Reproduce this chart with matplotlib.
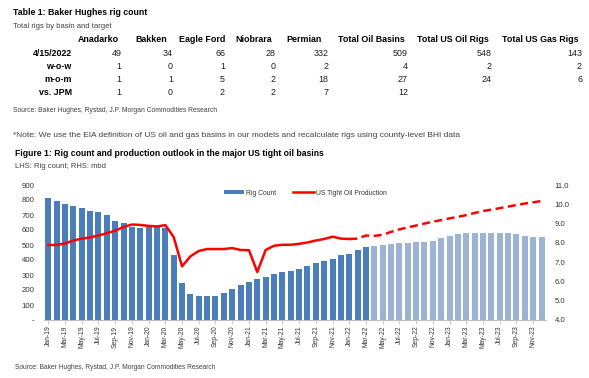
import matplotlib
matplotlib.use("Agg")
import matplotlib.pyplot as plt
from matplotlib.patches import Patch
from matplotlib.lines import Line2D

plt.rcParams['font.family'] = ['Liberation Sans Narrow', 'Liberation Sans', 'DejaVu Sans']

# ---------------- data ----------------
table_cols = ["Anadarko", "Bakken", "Eagle Ford", "Niobrara", "Permian",
              "Total Oil Basins", "Total US Oil Rigs", "Total US Gas Rigs"]
row_labels = ["4/15/2022", "w-o-w", "m-o-m", "vs. JPM"]
row_date = ["49", "34", "66", "28", "332", "509", "548", "143"]
row_wow = ["1", "0", "1", "0", "2", "4", "2", "2"]
row_mom = ["1", "1", "5", "2", "18", "27", "24", "6"]
row_jpm = ["1", "0", "2", "2", "7", "12", "", ""]

months = ["Jan", "Feb", "Mar", "Apr", "May", "Jun", "Jul", "Aug", "Sep", "Oct", "Nov", "Dec"]
years = ["19", "20", "21", "22", "23"]
month_labels = [f"{m}-{y}" for y in years for m in months]

rig_count = [812, 795, 771, 762, 744, 728, 719, 700, 662, 648, 623, 614,
             618, 618, 612, 432, 247, 176, 160, 158, 158, 180, 210, 231,
             253, 275, 287, 307, 318, 329, 341, 360, 378, 393, 409, 431,
             442, 466, 487, 496, 502, 507, 511, 516, 520, 522, 527, 544,
             562, 571, 582, 582, 582, 582, 582, 577, 571, 560, 555, 551]
n_actual_bars = 39  # Jan-19 .. Mar-22 are actuals

production = [7.89, 7.89, 7.97, 8.12, 8.22, 8.28, 8.38, 8.50, 8.63, 8.82, 8.95, 8.93,
              8.88, 8.85, 8.92, 8.30, 6.78, 7.30, 7.58, 7.68, 7.68, 7.68, 7.73, 7.63,
              7.62, 6.49, 7.63, 7.85, 7.90, 7.90, 7.95, 8.02, 8.12, 8.20, 8.32, 8.22,
              8.20, 8.22, 8.38, 8.36, 8.42, 8.57, 8.70, 8.80, 8.90, 9.00, 9.10, 9.18,
              9.27, 9.35, 9.44, 9.55, 9.65, 9.72, 9.80, 9.88, 9.96, 10.04, 10.10, 10.17]
last_actual_prod = 36  # Jan-22

# ---------------- figure ----------------
W, H = 589, 378
fig = plt.figure(figsize=(W / 100, H / 100), dpi=100)

def ftext(x, y, s, **kw):
    fig.text(x / W, 1 - y / H, s, va='center', **kw)

txt_col = '#1a1a1a'
grey = '#404040'
ftext(13, 12.5, "Table 1: Baker Hughes rig count", fontsize=6.3, fontweight='bold', color='black')
ftext(13, 26, "Total rigs by basin and target", fontsize=5.5, color=grey)

col_right = [121.7, 173, 225, 276, 328.3, 408, 491.8, 582]
head_right = [119.3, 167, 225, 272, 322, 405, 489, 578.5]
tfs = 6.4
for c, xr in zip(table_cols, head_right):
    ftext(xr, 40, c, fontsize=tfs, fontweight='bold', color='black', ha='right')
rows = [row_date, row_wow, row_mom, row_jpm]
row_y = [54, 66.7, 80, 92.3]
for lab, vals, y in zip(row_labels, rows, row_y):
    ftext(71.7, y, lab, fontsize=tfs, fontweight='bold', color='black', ha='right')
    for v, xr in zip(vals, col_right):
        ftext(xr, y, v, fontsize=tfs, color=txt_col, ha='right')

ftext(13, 111, "Source: Baker Hughes, Rystad, J.P. Morgan Commodities Research", fontsize=4.9, color=grey)
ftext(13, 135, "*Note: We use the EIA definition of US oil and gas basins in our models and recalculate rigs using county-level BHI data",
      fontsize=6.0, color=grey, family=['Liberation Sans', 'DejaVu Sans'])
ftext(15, 153.3, "Figure 1: Rig count and production outlook in the major US tight oil basins",
      fontsize=6.2, fontweight='bold', color='black')
ftext(15, 166.7, "LHS: Rig count; RHS: mbd", fontsize=5.5, color=grey)
ftext(15, 367.5, "Source: Baker Hughes, Rystad, J.P. Morgan Commodities Research", fontsize=4.8, color=grey)

# ---------------- chart ----------------
ax_l, ax_r = 44.1, 545.7
ax_t, ax_b = 185, 320
ax = fig.add_axes([ax_l / W, 1 - ax_b / H, (ax_r - ax_l) / W, (ax_b - ax_t) / H])
x = list(range(len(month_labels)))
dark = '#4A7EBB'
light = '#9DB3D3'
colors = [dark if i < n_actual_bars else light for i in x]
bars = ax.bar(x, rig_count, width=0.72, color=colors, zorder=2)
ax.set_xlim(-0.5, len(x) - 0.5)
ax.set_ylim(0, 900)
ax.set_yticks(range(0, 901, 100))
ax.set_yticklabels(["-"] + [str(v) for v in range(100, 901, 100)])
ax.set_xticks(x[::2])
ax.set_xticklabels(month_labels[::2], rotation=90)
for s in ['top', 'right', 'left']:
    ax.spines[s].set_visible(False)
ax.spines['bottom'].set_color('#BFBFBF')
ax.spines['bottom'].set_linewidth(0.8)
ax.tick_params(axis='y', length=0, labelsize=5.6, colors='#333333', pad=7)
ax.tick_params(axis='x', length=3, width=0.6, color='#BFBFBF', labelsize=4.9, labelcolor='#333333', pad=1)

ax2 = ax.twinx()
ax2.set_ylim(4, 11)
ax2.set_yticks(range(4, 12))
ax2.set_yticklabels([f"{v:.1f}" for v in range(4, 12)])
for s in ['top', 'right', 'left', 'bottom']:
    ax2.spines[s].set_visible(False)
ax2.tick_params(axis='y', length=0, labelsize=5.6, colors='#333333', pad=6.5)
red = '#FF0000'
ax2.plot(x[:last_actual_prod + 1], production[:last_actual_prod + 1], color=red, lw=1.8, zorder=3,
         solid_joinstyle='round')
ax2.plot(x[last_actual_prod:], production[last_actual_prod:], color=red, lw=1.8, zorder=3,
         dashes=(3.2, 1.8))

handles = [Patch(facecolor=dark, edgecolor='none'),
           Line2D([0], [0], color=red, lw=1.8)]
leg = ax2.legend(handles, ["Rig Count", "US Tight Oil Production"], ncol=2, frameon=False,
                 loc='center left', bbox_to_anchor=(0.358, 0.94), borderpad=0, borderaxespad=0,
                 handlelength=3.0, handleheight=0.6, handletextpad=0.3, columnspacing=2.5,
                 fontsize=4.9)
for t in leg.get_texts():
    t.set_color('#333333')

fig.savefig("out.png", dpi=100)
